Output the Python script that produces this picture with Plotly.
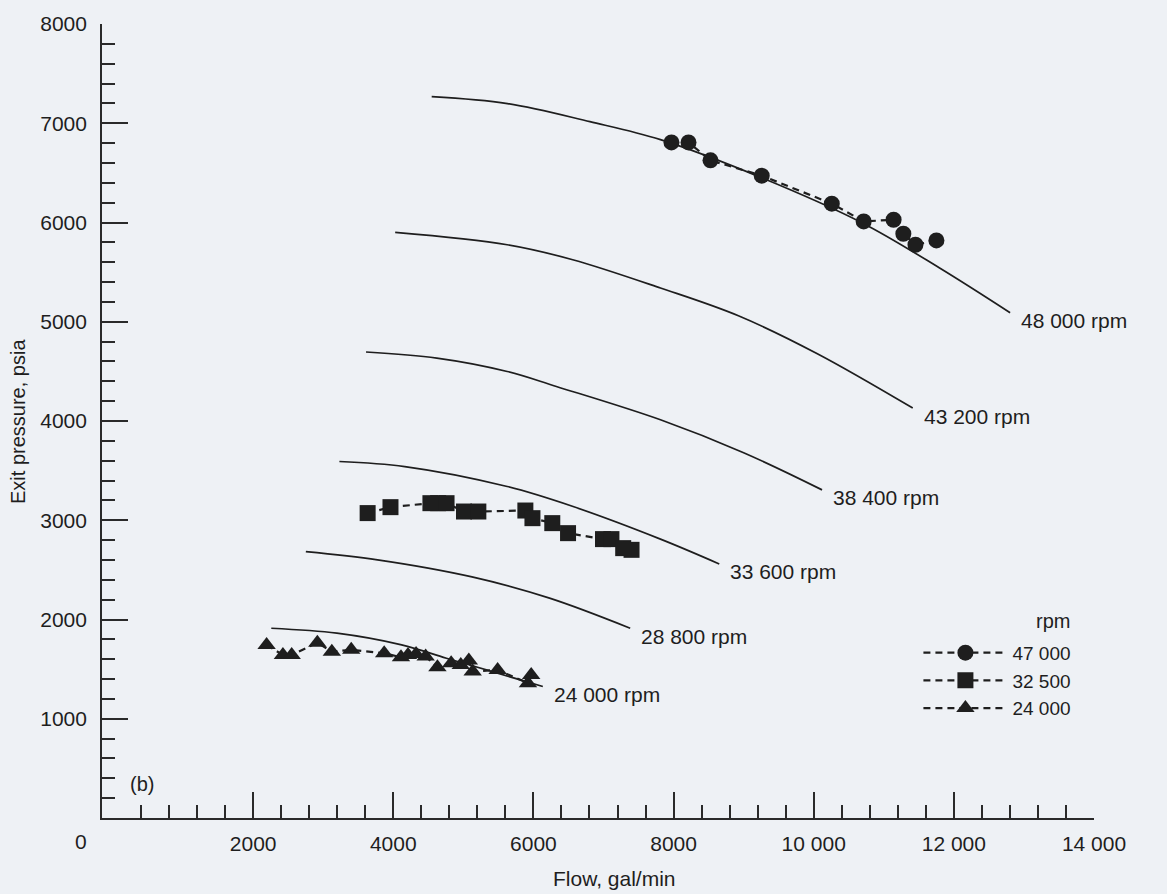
import plotly.graph_objects as go

# ---- Performance curves (solid lines), flow in gal/min, exit pressure in psia ----
curve_labels = ["48 000 rpm", "43 200 rpm", "38 400 rpm", "33 600 rpm", "28 800 rpm", "24 000 rpm"]

flow_48000 = [4548, 5630, 6806, 7813, 9254, 10687, 11791, 12803]
pres_48000 = [7268, 7198, 7016, 6835, 6452, 5998, 5544, 5091]

flow_43200 = [4027, 5626, 6561, 7813, 8925, 10045, 11413]
pres_43200 = [5900, 5776, 5625, 5340, 5060, 4680, 4130]

flow_38400 = [3611, 4621, 5626, 6327, 7813, 9000, 10119]
pres_38400 = [4695, 4634, 4499, 4348, 4012, 3680, 3306]

flow_33600 = [3231, 4164, 5626, 6566, 7813, 8652]
pres_33600 = [3592, 3541, 3340, 3138, 2810, 2560]

flow_28800 = [2752, 3775, 5123, 6230, 7381]
pres_28800 = [2684, 2601, 2429, 2215, 1912]

flow_24000 = [2259, 3195, 4119, 4758, 5489, 6134]
pres_24000 = [1912, 1862, 1744, 1610, 1459, 1325]

# ---- Test data (dashed lines with markers) ----
test_names = ["47 000", "32 500", "24 000"]

flow_47000_test = [7970, 8213, 8527, 9258, 10258, 10713, 11140, 11279, 11452, 11751]
pres_47000_test = [6807, 6807, 6626, 6472, 6190, 6011, 6028, 5887, 5776, 5819]

flow_32500_test = [3634, 3960, 4530, 4640, 4760, 5009, 5214, 5885, 5986, 6269, 6494, 6993, 7113, 7281, 7400]
pres_32500_test = [3072, 3132, 3172, 3172, 3172, 3088, 3088, 3098, 3021, 2971, 2870, 2810, 2810, 2719, 2702]

flow_24000_test = [2192, 2425, 2550, 2916, 3123, 3400, 3870, 4110, 4210, 4325, 4462,
                   4630, 4826, 4963, 5078, 5133, 5489, 5922, 5968]
pres_24000_test = [1744, 1643, 1643, 1767, 1676, 1694, 1660, 1620, 1643, 1653, 1626,
                   1519, 1560, 1542, 1586, 1475, 1492, 1358, 1442]

# ---- Axis ticks ----
x_major = [2000, 4000, 6000, 8000, 10000, 12000, 14000]
x_major_text = ["2000", "4000", "6000", "8000", "10 000", "12 000", "14 000"]
y_major = [1000, 2000, 3000, 4000, 5000, 6000, 7000, 8000]
y_major_text = ["1000", "2000", "3000", "4000", "5000", "6000", "7000", "8000"]

BG = "#eef1f5"
INK = "#1e1e1e"
FONT = "Liberation Sans, Arial, Helvetica, sans-serif"
FS = 21

fig = go.Figure()

curves = [
    (flow_48000, pres_48000),
    (flow_43200, pres_43200),
    (flow_38400, pres_38400),
    (flow_33600, pres_33600),
    (flow_28800, pres_28800),
    (flow_24000, pres_24000),
]

for (fx, fy), lab in zip(curves, curve_labels):
    fig.add_trace(go.Scatter(
        x=fx, y=fy, mode="lines",
        line=dict(color=INK, width=1.7, shape="spline", smoothing=1.0),
        showlegend=False, hoverinfo="skip",
    ))
    fig.add_annotation(
        x=fx[-1], y=fy[-1], xref="x", yref="y", text=lab, showarrow=False,
        xanchor="left", yanchor="middle", xshift=9, yshift=-8,
        font=dict(family=FONT, size=FS, color=INK),
    )

tests = [
    (flow_47000_test, pres_47000_test, "circle"),
    (flow_32500_test, pres_32500_test, "square"),
    (flow_24000_test, pres_24000_test, "triangle-up"),
]
for (fx, fy, sym), name in zip(tests, test_names):
    fig.add_trace(go.Scatter(
        x=fx, y=fy, mode="lines+markers", name=name,
        line=dict(color=INK, width=2.2, dash="7px,5px"),
        marker=dict(symbol=sym, size=16, color=INK, line=dict(width=0)),
    ))

x_minor = [v for v in range(400, 14000, 400) if v % 2000 != 0]
y_minor = [v for v in range(200, 8000, 200) if v % 1000 != 0]

axis_common = dict(
    showline=True, linecolor="#2a2a2a", linewidth=1.7, mirror=False,
    ticks="inside", ticklen=26, tickwidth=1.7, tickcolor="#2a2a2a",
    showgrid=False, zeroline=False,
    tickfont=dict(family=FONT, size=FS, color=INK),
)

fig.update_xaxes(
    range=[-157, 14000], tickvals=x_major, ticktext=x_major_text,
    ticklabelstandoff=6,
    minor=dict(tickvals=x_minor, ticks="inside", ticklen=13, tickwidth=1.5,
               tickcolor="#2a2a2a", showgrid=False),
    **axis_common,
)
fig.update_yaxes(
    range=[0, 8000], tickvals=y_major, ticktext=y_major_text,
    ticklabelstandoff=9,
    minor=dict(tickvals=y_minor, ticks="inside", ticklen=13, tickwidth=1.5,
               tickcolor="#2a2a2a", showgrid=False),
    **axis_common,
)

# Axis titles, origin label, panel tag and legend heading
fig.add_annotation(xref="paper", yref="paper", x=0.5166, y=-0.0756, text="Flow, gal/min",
                   showarrow=False, xanchor="center", yanchor="middle",
                   font=dict(family=FONT, size=FS, color=INK))
fig.add_annotation(xref="paper", yref="paper", x=-0.0847, y=0.5, text="Exit pressure, psia",
                   showarrow=False, textangle=-90, xanchor="center", yanchor="middle",
                   font=dict(family=FONT, size=FS - 1, color=INK))
fig.add_annotation(xref="paper", yref="paper", x=-0.0131, y=-0.0302, text="0",
                   showarrow=False, xanchor="right", yanchor="middle",
                   font=dict(family=FONT, size=FS, color=INK))
fig.add_annotation(xref="paper", yref="paper", x=0.026, y=0.0428, text="(b)",
                   showarrow=False, xanchor="left", yanchor="middle",
                   font=dict(family=FONT, size=FS - 1, color=INK))
fig.add_annotation(xref="paper", yref="paper", x=0.9587, y=0.248, text="rpm",
                   showarrow=False, xanchor="center", yanchor="middle",
                   font=dict(family=FONT, size=FS - 1, color=INK))

fig.update_layout(
    width=1167, height=894,
    margin=dict(l=102, r=73, t=24, b=76),
    paper_bgcolor=BG, plot_bgcolor=BG,
    font=dict(family=FONT, size=FS, color=INK),
    legend=dict(
        x=0.823, y=0.232, xanchor="left", yanchor="top",
        bgcolor="rgba(0,0,0,0)", borderwidth=0, itemwidth=84,
        font=dict(family=FONT, size=19, color=INK),
        tracegroupgap=0,
    ),
)

fig.write_html("out.html")
